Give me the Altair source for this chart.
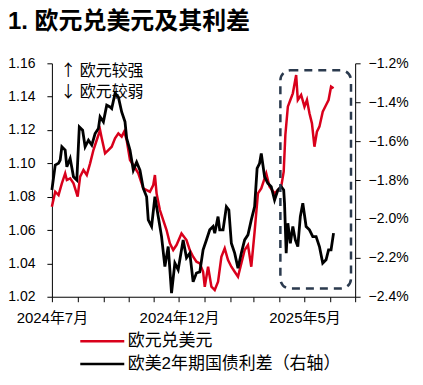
import altair as alt
import pandas as pd

FONT = "Liberation Sans, Noto Sans CJK SC, sans-serif"
CJK = "Noto Sans CJK SC, sans-serif"

series_names = ["欧元兑美元", "欧美2年期国债利差（右轴）"]
series_colors = ["#D9001B", "#000000"]

red_dates = ["2024-07-01","2024-07-05","2024-07-09","2024-07-13","2024-07-17","2024-07-19","2024-07-23","2024-07-27",
             "2024-08-01","2024-08-04","2024-08-08","2024-08-12","2024-08-16","2024-08-20","2024-08-24","2024-08-28","2024-08-30",
             "2024-09-03","2024-09-07","2024-09-11","2024-09-15","2024-09-19","2024-09-23","2024-09-26","2024-09-29",
             "2024-10-03","2024-10-07","2024-10-13","2024-10-19","2024-10-23","2024-10-27","2024-10-31",
             "2024-11-02","2024-11-04","2024-11-08","2024-11-12","2024-11-16","2024-11-20","2024-11-24","2024-11-28",
             "2024-12-04","2024-12-10","2024-12-14","2024-12-18","2024-12-22","2024-12-26","2024-12-30",
             "2025-01-01","2025-01-05","2025-01-09","2025-01-13","2025-01-17","2025-01-21","2025-01-25","2025-01-29",
             "2025-02-02","2025-02-06","2025-02-10","2025-02-14","2025-02-18","2025-02-22","2025-02-26",
             "2025-03-02","2025-03-06","2025-03-10","2025-03-16","2025-03-20","2025-03-26","2025-03-30",
             "2025-04-03","2025-04-06","2025-04-08","2025-04-11","2025-04-14","2025-04-17","2025-04-21","2025-04-23","2025-04-27",
             "2025-05-01","2025-05-04","2025-05-07","2025-05-10","2025-05-13","2025-05-16","2025-05-19","2025-05-23","2025-05-27","2025-05-30",
             "2025-06-02","2025-06-05"]
red_values = [1.074,1.083,1.081,1.088,1.094,1.090,1.091,1.088,
              1.080,1.092,1.096,1.093,1.100,1.108,1.114,1.120,1.115,
              1.106,1.108,1.110,1.115,1.118,1.116,1.119,1.114,
              1.102,1.099,1.094,1.085,1.084,1.083,1.087,
              1.093,1.082,1.072,1.066,1.060,1.052,1.048,1.051,
              1.058,1.054,1.048,1.044,1.041,1.040,1.035,
              1.026,1.038,1.026,1.024,1.029,1.044,1.049,1.042,
              1.038,1.035,1.032,1.040,1.048,1.051,1.038,
              1.059,1.082,1.085,1.094,1.086,1.082,1.084,
              1.086,1.095,1.117,1.134,1.138,1.142,1.153,1.138,1.141,
              1.134,1.138,1.130,1.124,1.110,1.119,1.122,1.131,1.135,1.138,
              1.146,1.145]

black_dates = ["2024-07-01","2024-07-05","2024-07-09","2024-07-11","2024-07-13","2024-07-17","2024-07-19","2024-07-23","2024-07-27","2024-07-31",
               "2024-08-03","2024-08-07","2024-08-10","2024-08-14","2024-08-18","2024-08-22","2024-08-26","2024-08-28",
               "2024-09-01","2024-09-05","2024-09-09","2024-09-11","2024-09-15","2024-09-19","2024-09-23","2024-09-27","2024-09-29",
               "2024-10-03","2024-10-05","2024-10-07","2024-10-11","2024-10-15","2024-10-19","2024-10-23","2024-10-25","2024-10-29",
               "2024-11-02","2024-11-06","2024-11-10","2024-11-14","2024-11-18","2024-11-20","2024-11-22","2024-11-26","2024-11-30",
               "2024-12-02","2024-12-06","2024-12-10","2024-12-14","2024-12-18","2024-12-22","2024-12-26","2024-12-30",
               "2025-01-03","2025-01-07","2025-01-11","2025-01-13","2025-01-17","2025-01-19","2025-01-23","2025-01-27","2025-01-30",
               "2025-02-02","2025-02-06","2025-02-10","2025-02-14","2025-02-18","2025-02-22","2025-02-26",
               "2025-03-02","2025-03-05","2025-03-08","2025-03-10","2025-03-14","2025-03-18","2025-03-22","2025-03-26","2025-03-30",
               "2025-04-03","2025-04-06","2025-04-07","2025-04-09","2025-04-11","2025-04-14","2025-04-17","2025-04-20","2025-04-23","2025-04-26","2025-04-29",
               "2025-05-03","2025-05-07","2025-05-11","2025-05-15","2025-05-19","2025-05-23","2025-05-27","2025-05-30",
               "2025-06-02","2025-06-05"]
black_values = [-1.851,-1.723,-1.714,-1.697,-1.629,-1.646,-1.732,-1.689,-1.783,-1.800,
                -1.527,-1.544,-1.629,-1.595,-1.620,-1.561,-1.535,-1.475,
                -1.501,-1.415,-1.424,-1.432,-1.355,-1.373,-1.450,-1.501,-1.586,
                -1.646,-1.697,-1.749,-1.708,-1.749,-1.843,-1.886,-2.005,-2.039,
                -1.886,-1.988,-2.091,-2.245,-2.142,-2.261,-2.381,-2.227,-2.261,
                -2.210,-2.108,-2.200,-2.176,-2.323,-2.278,-2.272,-2.159,
                -2.108,-2.056,-2.039,-2.073,-1.988,-2.056,-2.056,-1.937,-1.954,
                -2.125,-2.176,-2.253,-2.176,-2.108,-2.082,-2.005,
                -1.937,-1.740,-1.714,-1.663,-1.783,-1.817,-1.834,-1.903,-1.851,
                -1.834,-1.851,-1.919,-2.176,-2.022,-2.125,-2.039,-2.108,-2.142,-1.988,-1.919,
                -2.039,-2.056,-2.091,-2.091,-2.142,-2.227,-2.210,-2.159,
                -2.159,-2.073]

left_ticks = [1.02, 1.04, 1.06, 1.08, 1.10, 1.12, 1.14, 1.16]
right_ticks = [-2.4, -2.2, -2.0, -1.8, -1.6, -1.4, -1.2]

note_texts = ["↑ 欧元较强", "↓ 欧元较弱"]
note_dates = ["2024-07-11", "2024-07-11"]
note_values = [1.1555, 1.1425]

box_start = ["2025-04-02"]
box_end = ["2025-06-26"]
box_top = [1.1558]
box_bottom = [1.0249]

red_df = pd.DataFrame({"date": red_dates, "value": red_values, "series": series_names[0]})
black_df = pd.DataFrame({"date": black_dates, "value": black_values, "series": series_names[1]})
note_df = pd.DataFrame({"date": note_dates, "value": note_values, "text": note_texts})
box_df = pd.DataFrame({"start": box_start, "end": box_end, "top": box_top, "bottom": box_bottom})

month_ticks = [alt.DateTime(year=2024 + (6 + i) // 12, month=(6 + i) % 12 + 1, date=1, utc=True) for i in range(13)]
x_scale = alt.Scale(type="utc", domain=[alt.DateTime(year=2024, month=7, date=1, utc=True),
                                        alt.DateTime(year=2025, month=7, date=1, utc=True)])
x_axis = alt.Axis(values=month_ticks, labelExpr=
                  "((utcyear(datum.value)*12 + utcmonth(datum.value) - 24294) % 5 == 0 && utcyear(datum.value)*12 + utcmonth(datum.value) < 24306) ? utcFormat(datum.value, '%Y年%-m月') : ''",
                  labelPadding=9, labelFontSize=15, labelOverlap=False, labelFlush=False, title=None)
x_enc = alt.X("date:T", scale=x_scale, axis=x_axis)

left_scale = alt.Scale(domain=[1.02, 1.16], nice=False, zero=False)
right_scale = alt.Scale(domain=[-2.4, -1.2], nice=False, zero=False)

color = alt.Color("series:N", scale=alt.Scale(domain=series_names, range=series_colors),
                  legend=alt.Legend(title=None, orient="none", legendX=40, legendY=268, direction="vertical",
                                    symbolType="M-2.45,0L2.45,0", symbolSize=324, symbolStrokeWidth=2.5,
                                    labelFontSize=17, labelFont=FONT, labelColor="black", labelOffset=15,
                                    labelLimit=400, rowPadding=4, padding=0))

red = alt.Chart(red_df).mark_line(strokeWidth=2.5).encode(
    x=x_enc,
    y=alt.Y("value:Q", scale=left_scale, title=None,
            axis=alt.Axis(orient="left", values=left_ticks, format=".2f", labelPadding=12)),
    color=color,
)
black = alt.Chart(black_df).mark_line(strokeWidth=2.8).encode(
    x=x_enc,
    y=alt.Y("value:Q", scale=right_scale, title=None,
            axis=alt.Axis(orient="right", values=right_ticks, labelExpr="format(datum.value, '.1f') + '%'",
                          labelPadding=8)),
    color=color,
)
box = alt.Chart(box_df).mark_rect(fillOpacity=0, stroke="#2B3A4E", strokeWidth=2.5, strokeDash=[8, 6],
                                  cornerRadius=10).encode(
    x=alt.X("start:T", scale=x_scale, axis=x_axis),
    x2="end:T",
    y=alt.Y("top:Q", scale=left_scale, axis=None),
    y2="bottom:Q",
)
notes = alt.Chart(note_df).mark_text(align="left", baseline="middle", fontSize=16, font=CJK, color="black").encode(
    x=alt.X("date:T", scale=x_scale, axis=x_axis),
    y=alt.Y("value:Q", scale=left_scale, axis=None),
    text="text:N",
)

chart = alt.layer(red, black, box, notes).resolve_scale(y="independent").properties(
    width=304, height=234,
    padding={"left": 44, "top": 55, "right": 60, "bottom": 80},
    autosize=alt.AutoSizeParams(type="none"),
    title=alt.Title("1. 欧元兑美元及其利差", anchor="start", frame="group", dx=-44, offset=22,
                    fontSize=24, fontWeight="bold", font=FONT, color="black"),
).configure_view(stroke="transparent").configure_axis(
    labelFont=FONT, labelFontSize=14, labelColor="black", domainColor="black", tickColor="black",
    tickSize=5, grid=False,
)

chart.save("out.html", embed_options={"renderer": "svg", "actions": False})
